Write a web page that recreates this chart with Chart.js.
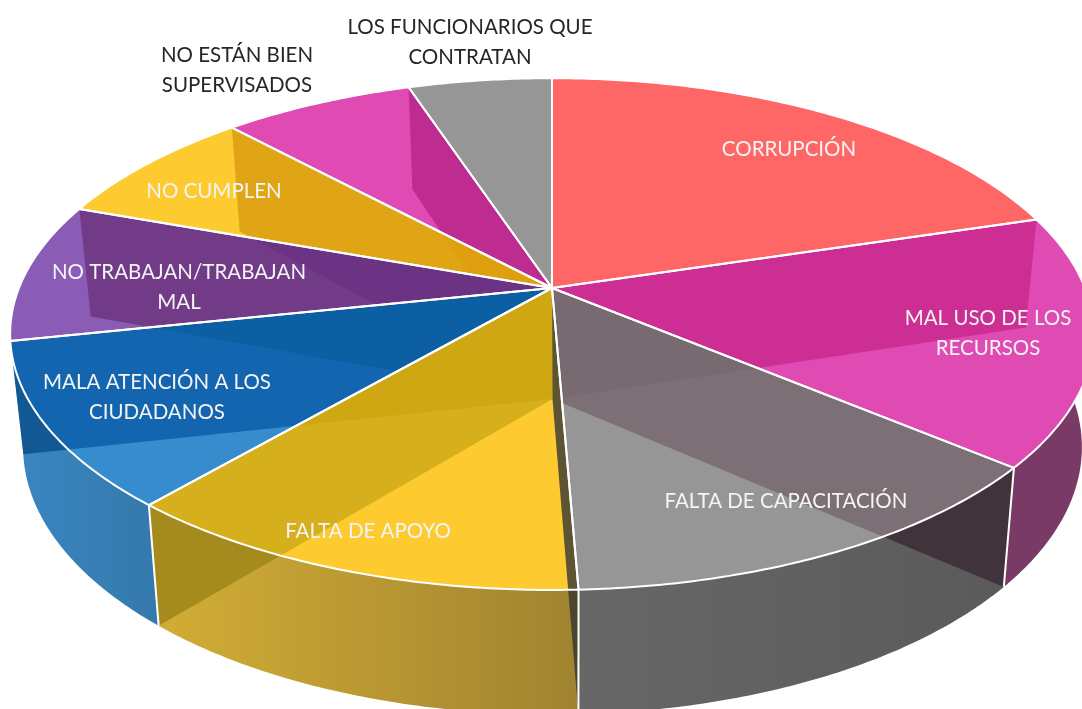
<!DOCTYPE html>
<html>
<head>
<meta charset="utf-8">
<script src="https://cdn.jsdelivr.net/npm/chart.js@4"></script>
<style>
  html, body { margin: 0; padding: 0; background: #fff; overflow: hidden; }
  canvas { display: block; }
</style>
</head>
<body>
<canvas id="pie" width="1082" height="709"></canvas>
<script>
const categories = [
    "CORRUPCIÓN",
    "MAL USO DE LOS\nRECURSOS",
    "FALTA DE CAPACITACIÓN",
    "FALTA DE APOYO",
    "MALA ATENCIÓN A LOS\nCIUDADANOS",
    "NO TRABAJAN/TRABAJAN\nMAL",
    "NO CUMPLEN",
    "NO ESTÁN BIEN\nSUPERVISADOS",
    "LOS FUNCIONARIOS QUE\nCONTRATAN"
];
const shares = [20.3, 15.8, 13.25, 11.98, 10.37, 8.8, 7.6, 6.8, 5.1];

// colores de cada cara
const topColors    = ["#FF6666", "#E04BB3", "#969696", "#FDCA30", "#368CCD", "#8B5CB5", "#FDCA30", "#E04BB3", "#969696"];
const strongColors = [null, "#CC2E94", "#7C6F76", "#D5AF1C", "#1265AE", "#723B87", "#E0A514", "#BE2C91", null];
const faintColors  = [null, null, "#776A71", "#CEA712", "#0D5FA3", "#6C3284", "#DF9F0E", null, null];
const wallLeft     = [null, "#793A66", "#676767", "#D3AE35", "#3A86C2", null, null, null, null];
const wallRight    = [null, "#793A66", "#5A5A5A", "#A08330", "#3479AC", null, null, null, null];
const wallStrong   = [null, null, "#40333B", "#A58A1E", "#125892", null, null, null, null];

// centro de cada etiqueta
const labelSpots = [[789, 149], [988, 318], [786, 501], [368, 531], [157, 382], [179, 272], [214, 191], [237, 55], [470, 27]];
const outsideLabels = [7, 8];

// proyeccion en perspectiva del disco
const CX = 552, TOP_CY = 288, BOT_CX = 552.5, BOT_CY = 399, RX = 533, RY = 247.6, PERSP = 0.18;
const BOT_SX = 0.977, BOT_SY = 1.045;

function rim(a, level) {
    const t = a + Math.PI / 2;
    const u = Math.sin(t), v = -Math.cos(t);
    const k = 1 / (1 - PERSP * v);
    if (level === 0) return [CX + RX * u * k, TOP_CY + RY * v * k];
    return [BOT_CX + RX * BOT_SX * u * k, BOT_CY + RY * BOT_SY * v * k];
}

function arcPoints(a0, a1, level) {
    const pts = [];
    const steps = Math.max(2, Math.ceil((a1 - a0) / 0.01));
    for (let i = 0; i <= steps; i++) pts.push(rim(a0 + (a1 - a0) * i / steps, level));
    return pts;
}

function tracePath(ctx, pts) {
    ctx.beginPath();
    pts.forEach((p, i) => { if (i === 0) ctx.moveTo(p[0], p[1]); else ctx.lineTo(p[0], p[1]); });
    ctx.closePath();
}

function topFace(arc) {
    return [[CX, TOP_CY]].concat(arcPoints(arc.startAngle, arc.endAngle, 0));
}

function wallFace(arc) {
    return arcPoints(arc.startAngle, arc.endAngle, 0).concat(arcPoints(arc.startAngle, arc.endAngle, 1).reverse());
}

// pared radial que baja desde el centro
function radialWall(a) {
    return [[CX, TOP_CY], rim(a, 0), rim(a, 1), [BOT_CX, BOT_CY]];
}

function fillClipped(ctx, clipPts, pts, color) {
    ctx.save();
    tracePath(ctx, clipPts);
    ctx.clip();
    tracePath(ctx, pts);
    ctx.fillStyle = color;
    ctx.fill();
    ctx.restore();
}

const pie3d = {
    id: "pie3d",
    beforeDatasetsDraw(chart) {
        const ctx = chart.ctx;
        const arcs = chart.getDatasetMeta(0).data;
        const n = arcs.length;
        const boundary = k => arcs[k % n].startAngle;

        // paredes exteriores
        arcs.forEach((arc, i) => {
            if (!wallLeft[i]) return;
            const pts = wallFace(arc);
            const xs = pts.map(p => p[0]);
            const grad = ctx.createLinearGradient(Math.min(...xs), 0, Math.max(...xs), 0);
            grad.addColorStop(0, wallLeft[i]);
            grad.addColorStop(1, wallRight[i]);
            tracePath(ctx, pts);
            ctx.fillStyle = grad;
            ctx.fill();
            if (wallStrong[i]) {
                const k = i <= 2 ? i : i + 1;
                fillClipped(ctx, pts, radialWall(boundary(k)), wallStrong[i]);
            }
            if (i === 3) fillClipped(ctx, pts, radialWall(arc.startAngle), "#4A4430");
        });

        // caras superiores
        arcs.forEach((arc, i) => {
            const pts = topFace(arc);
            tracePath(ctx, pts);
            ctx.fillStyle = topColors[i];
            ctx.fill();
            if (strongColors[i]) {
                const k = i <= 2 ? i : i + 1;
                fillClipped(ctx, pts, radialWall(boundary(k)), strongColors[i]);
            }
            if (faintColors[i]) {
                const k = i <= 2 ? i - 1 : i + 2;
                fillClipped(ctx, pts, radialWall(boundary(k)), faintColors[i]);
            }
            if (i === 3) fillClipped(ctx, pts, radialWall(arc.startAngle), "#5C5433");
        });

        // bordes blancos
        ctx.strokeStyle = "#fff";
        ctx.lineWidth = 2;
        ctx.lineJoin = "round";
        arcs.forEach(arc => {
            tracePath(ctx, topFace(arc));
            ctx.stroke();
        });
        [2, 3, 4].forEach(k => {
            const a = rim(boundary(k), 0), b = rim(boundary(k), 1);
            ctx.beginPath();
            ctx.moveTo(a[0], a[1]);
            ctx.lineTo(b[0], b[1]);
            ctx.stroke();
        });
        return false;
    },
    afterDraw(chart) {
        const ctx = chart.ctx;
        ctx.font = '22px Lato';
        ctx.textAlign = "center";
        ctx.textBaseline = "middle";
        categories.forEach((text, i) => {
            ctx.fillStyle = outsideLabels.includes(i) ? "#262626" : "#F4F4F4";
            text.split("\n").forEach((line, j) => {
                // letra algo mas estrecha, como en el original
                ctx.save();
                ctx.translate(labelSpots[i][0], labelSpots[i][1] + j * 29.5);
                ctx.scale(0.932, 1);
                ctx.fillText(line, 0, 0);
                ctx.restore();
            });
        });
    }
};

new Chart(document.getElementById("pie"), {
    type: "pie",
    data: {
        labels: categories,
        datasets: [{ data: shares, backgroundColor: topColors }]
    },
    options: {
        responsive: false,
        animation: false,
        plugins: { legend: { display: false }, tooltip: { enabled: false } }
    },
    plugins: [pie3d]
});
</script>
</body>
</html>
